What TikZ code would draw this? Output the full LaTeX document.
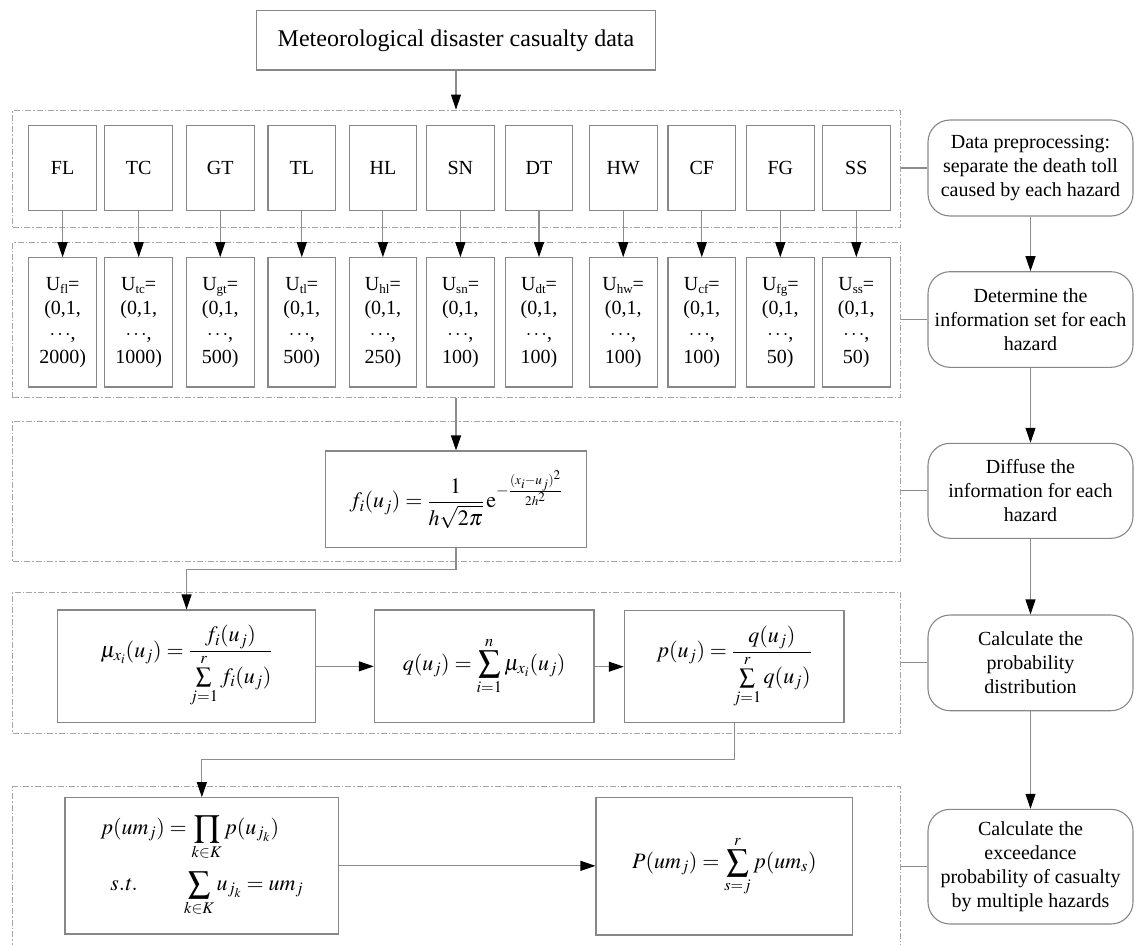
\documentclass[tikz,border=0pt]{standalone}
\usepackage{mathptmx}
\usepackage{fontspec}
\setmainfont{Liberation Serif}
\usetikzlibrary{arrows.meta}
\definecolor{boxgray}{RGB}{135,135,135}
\definecolor{dashgray}{RGB}{165,165,165}
\definecolor{linegray}{RGB}{140,140,140}
\newcommand\usub[1]{U\raisebox{-0.4ex}{\fontsize{13}{13}\selectfont #1}=}
\tikzset{
  box/.style={draw=boxgray, line width=1.1pt, inner sep=0pt},
  hz/.style={box, minimum width=67.7pt, minimum height=84.6pt, font=\fontsize{20}{24}\selectfont},
  ub/.style={box, minimum width=67.7pt, minimum height=129.3pt, align=center, font=\fontsize{20}{24.5}\selectfont},
  fbox/.style={box, font=\fontsize{22}{26}\selectfont},
  rbox/.style={draw=boxgray, line width=1.1pt, rounded corners=22pt, minimum width=205pt, inner sep=0pt, align=center, font=\fontsize{20}{24}\selectfont},
  grp/.style={draw=dashgray, line width=0.9pt, dash pattern=on 6pt off 2pt on 1.5pt off 2pt, minimum width=888pt, inner sep=0pt},
  arr/.style={draw=linegray, line width=1.1pt, -{Triangle[length=15pt,width=10pt,color=black]}},
  ln/.style={draw=linegray, line width=1.1pt},
}
\begin{document}
\begin{tikzpicture}[x=1pt,y=-1pt]
\useasboundingbox (0,0) rectangle (1136,945);
% top box
\node[box, minimum width=399pt, minimum height=59.3pt, font=\fontsize{24}{28}\selectfont] (top) at (456,40.35) {Meteorological disaster casualty data};
% groups
\node[grp, minimum height=117pt] (g1) at (456.7,168.5) {};
\node[grp, minimum height=155.4pt] (g2) at (456.7,320) {};
\node[grp, minimum height=140.7pt] (g3) at (456.7,491.35) {};
\node[grp, minimum height=141pt] (g4) at (456.7,662.8) {};
\node[grp, minimum height=161.2pt] (g5) at (456.7,867.3) {};
\draw[arr] (top.south) -- (top.south |- g1.north);
% hazards
\foreach \n/\hx/\hl/\hs/\hm in {1/62.6/FL/fl/2000, 2/138.7/TC/tc/1000, 3/220.2/GT/gt/500, 4/301.8/TL/tl/500, 5/382.9/HL/hl/250, 6/460.4/SN/sn/100, 7/539.0/DT/dt/100, 8/623.2/HW/hw/100, 9/701.8/CF/cf/100, 10/780.3/FG/fg/50, 11/856.3/SS/ss/50} {
  \node[hz] (h\n) at (\hx,168) {\hl};
  \node[ub] (u\n) at (\hx,322.35) {\usub{\hs}\\(0,1,\\$\cdots$,\\\hm)};
  \draw[arr] (h\n.south) -- (u\n.north);
}
% formulas
\node[fbox, minimum width=261.4pt, minimum height=96.7pt] (f) at (456,499.35)
  {$\displaystyle f_i(u_j)=\frac{1}{h\sqrt{2\pi}}\,\mathrm{e}^{-\frac{(x_i-u_j)^2}{2h^2}}$};
\node[fbox, minimum width=258.3pt, minimum height=112.7pt] (mu) at (186.55,666.35)
  {$\displaystyle \mu_{x_i}(u_j)=\frac{f_i(u_j)}{\sum\limits_{j=1}^{r}f_i(u_j)}$};
\node[fbox, minimum width=219.7pt, minimum height=112.7pt] (q) at (484.15,666.35)
  {$\displaystyle q(u_j)=\sum_{i=1}^{n}\mu_{x_i}(u_j)$};
\node[fbox, minimum width=219.7pt, minimum height=112pt] (p) at (734.15,666.7)
  {$\displaystyle p(u_j)=\frac{q(u_j)}{\sum\limits_{j=1}^{r}q(u_j)}$};
\node[fbox, minimum width=273.7pt, minimum height=136.3pt, align=left] (m) at (201.85,865.85)
  {$\displaystyle p(um_j)=\prod_{k\in K}p(u_{j_k})$\\[10pt]
   $\displaystyle \hspace{10pt}\mathit{s.t.}\qquad\sum_{k\in K}u_{j_k}=um_j$};
\node[fbox, minimum width=256.8pt, minimum height=137.7pt] (P) at (724.4,866.15)
  {$\displaystyle P(um_j)=\sum_{s=j}^{r}p(um_s)$};
\draw[arr] (g2.south -| f.north) -- (f.north);
\coordinate (c1) at (456,569.3);
\draw[arr] (f.south) -- (c1) -| (mu.north);
\draw[arr] (mu.east) -- (q.west |- mu.east);
\draw[arr] (q.east |- p.west) -- (p.west);
\coordinate (c2) at (734.15,759.3);
\draw[arr] (p.south) -- (c2) -| (m.north);
\draw[arr] (m.east) -- (P.west |- m.east);
% right column
\node[rbox, minimum height=96pt] (r1) at (1030.5,168) {Data preprocessing:\\separate the death toll\\caused by each hazard};
\node[rbox, minimum height=95.6pt] (r2) at (1030.5,319.5) {Determine the\\information set for each\\hazard};
\node[rbox, minimum height=95pt] (r3) at (1030.5,490.8) {Diffuse the\\information for each\\hazard};
\node[rbox, minimum height=95.7pt] (r4) at (1030.5,662.85) {Calculate the\\probability\\distribution};
\node[rbox, minimum height=114.7pt] (r5) at (1030.5,866.65) {Calculate the\\exceedance\\probability of casualty\\by multiple hazards};
\draw[arr] (r1.south) -- (r2.north);
\draw[arr] (r2.south) -- (r3.north);
\draw[arr] (r3.south) -- (r4.north);
\draw[arr] (r4.south) -- (r5.north);
\draw[ln] (g1.east |- r1.west) -- (r1.west);
\draw[ln] (g2.east |- r2.west) -- (r2.west);
\draw[ln] (g3.east |- r3.west) -- (r3.west);
\draw[ln] (g4.east |- r4.west) -- (r4.west);
\draw[ln] (g5.east |- r5.west) -- (r5.west);
\end{tikzpicture}
\end{document}
